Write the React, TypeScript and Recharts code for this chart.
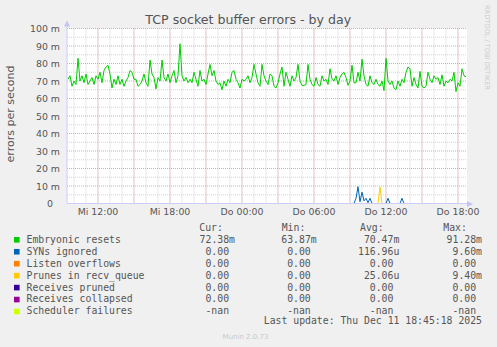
import React from 'react';
import { LineChart, Line, XAxis, YAxis, CartesianGrid } from 'recharts';

// ---- data (values in milli-errors per second) ----
const firstSampleMinute = 570; // Wed 09:30, minutes since Wed 00:00
const sampleStepMinutes = 10;
const domainStart = 565;
const domainEnd = 2565;

const embryonicResets = [
  71, 73, 67, 70, 68, 83, 70, 73, 69, 74,
  68, 70, 72, 68, 73, 71, 75, 69, 76, 78,
  79, 74, 66, 71, 68, 73, 68, 71, 67, 70,
  72, 76, 75, 71, 71, 67, 68, 70, 74, 69,
  67, 82, 74, 72, 65.5, 72, 70, 82, 72, 70,
  74, 69, 73, 76, 69, 73, 91.3, 73, 70, 72,
  69, 71, 69, 75, 71, 67, 76, 70, 71, 68,
  74, 79.5, 73, 76, 70, 68, 69, 65, 70, 67,
  71, 69, 75, 76, 71, 69, 66, 71, 70, 71,
  73, 69, 72, 79.5, 74, 69, 67, 79.5, 73, 70,
  68, 74, 73, 67, 66, 69, 74, 78, 67, 75,
  71, 67, 73, 70, 72, 79.5, 70, 67.5, 67.5, 68,
  79.5, 71, 68, 67, 72, 68, 67, 73, 70, 71,
  68, 77, 71, 70, 73, 68, 72, 74, 75, 72,
  67.5, 70, 79, 69, 69, 75, 70, 82.5, 73, 68,
  67, 73, 69, 68, 71, 68, 67, 70, 64.5, 83,
  70, 68, 70, 66, 65, 70, 67, 71, 69, 75,
  78, 77, 67, 72, 68, 66, 75.5, 67, 66, 67,
  75, 71, 69, 73, 71, 72, 68, 73.5, 67, 70,
  69, 71, 70, 75, 63.9, 69, 67, 77, 73, 72.4,
];

// sparse readings: [sample index, value]
const synsIgnoredReadings: [number, number][] = [
  [144, 3], [145, 9.6], [146, 1], [147, 6.5], [148, 1.5],
  [149, 3], [150, 0.5], [151, 3], [160, 3], [167, 3],
];
const prunesRecvQueueReadings: [number, number][] = [[156, 9.4]];
const listenOverflowsReadings: [number, number][] = [];
const receivesPrunedReadings: [number, number][] = [];
const receivesCollapsedReadings: [number, number][] = [];

const xTickValues = [720, 1080, 1440, 1800, 2160, 2520];
const xTickLabels = ['Mi 12:00', 'Mi 18:00', 'Do 00:00', 'Do 06:00', 'Do 12:00', 'Do 18:00'];
const yTickValues = [0, 10, 20, 30, 40, 50, 60, 70, 80, 90, 100];
const yTickLabels = ['0', '10 m', '20 m', '30 m', '40 m', '50 m', '60 m', '70 m', '80 m', '90 m', '100 m'];

const yMinorGrid = [5, 15, 25, 35, 45, 55, 65, 75, 85, 95];
const yMajorGrid = [10, 20, 30, 40, 50, 60, 70, 80, 90, 100];
const xMinorGrid: number[] = [];
for (let m = 600; m <= 2520; m += 60) xMinorGrid.push(m);
const xMajorGrid = [720, 900, 1080, 1260, 1440, 1620, 1800, 1980, 2160, 2340, 2520];

const seriesKeys = ['embryonic', 'syns', 'listen', 'prunes', 'rpruned', 'rcollapsed', 'sched'];
const seriesNames = [
  'Embryonic resets', 'SYNs ignored', 'Listen overflows', 'Prunes in recv_queue',
  'Receives pruned', 'Receives collapsed', 'Scheduler failures',
];
const seriesColors = ['#00cc00', '#0066b3', '#ff8000', '#ffcc00', '#330099', '#990099', '#ccff00'];
const curValues = ['72.38m', '0.00', '0.00', '0.00', '0.00', '0.00', '-nan'];
const minValues = ['63.87m', '0.00', '0.00', '0.00', '0.00', '0.00', '-nan'];
const avgValues = ['70.47m', '116.96u', '0.00', '25.06u', '0.00', '0.00', '-nan'];
const maxValues = ['91.28m', '9.60m', '0.00', '9.40m', '0.00', '0.00', '-nan'];

const titleText = 'TCP socket buffer errors - by day';
const yAxisLabel = 'errors per second';
const lastUpdate = 'Last update: Thu Dec 11 18:45:18 2025';
const muninVersion = 'Munin 2.0.73';
const rrdWatermark = 'RRDTOOL / TOBI OETIKER';

// ---- build table ----
const fromReadings = (r: [number, number][]) => {
  const m = new Map(r);
  return (i: number) => (m.has(i) ? (m.get(i) as number) : 0);
};
const synsAt = fromReadings(synsIgnoredReadings);
const prunesAt = fromReadings(prunesRecvQueueReadings);
const listenAt = fromReadings(listenOverflowsReadings);
const rprunedAt = fromReadings(receivesPrunedReadings);
const rcollapsedAt = fromReadings(receivesCollapsedReadings);

const rows = embryonicResets.map((v, i) => ({
  t: firstSampleMinute + i * sampleStepMinutes,
  embryonic: v,
  syns: synsAt(i),
  listen: listenAt(i),
  prunes: prunesAt(i),
  rpruned: rprunedAt(i),
  rcollapsed: rcollapsedAt(i),
  sched: null as number | null,
}));

const TXT = '#555555';
const SANS = '"DejaVu Sans", sans-serif';
const MONO = '"DejaVu Sans Mono", monospace';

const XTick = (props: any) => {
  const { x, y, payload } = props;
  const idx = xTickValues.indexOf(payload.value);
  return (
    <text x={x} y={y + 11.5} textAnchor="middle" fontFamily={SANS} fontSize={9.4} fill={TXT}>
      {idx >= 0 ? xTickLabels[idx] : ''}
    </text>
  );
};

const YTick = (props: any) => {
  const { x, y, payload } = props;
  const idx = yTickValues.indexOf(payload.value);
  const label = idx >= 0 ? yTickLabels[idx] : '';
  const shift = payload.value === 0 ? 14 : 7;
  return (
    <text x={x - shift} y={y + 3.5} textAnchor="end" fontFamily={SANS} fontSize={9.4} fill={TXT}>
      {label}
    </text>
  );
};

const CW = 5.95;
const colEnds = [235, 316.7, 399.3, 482];
const headerStarts = [199.3, 281.7, 360, 443.3];
const headers = ['Cur:', 'Min:', 'Avg:', 'Max:'];

const cellX = (s: string, end: number) => (/[mu]$/.test(s) ? end : end - CW);

export default function App() {
  const cols = [curValues, minValues, avgValues, maxValues];
  return (
    <div style={{ position: 'absolute', left: 0, top: 0, width: 497, height: 347, background: '#f0f0f0', overflow: 'hidden' }}>
      <LineChart
        width={497}
        height={347}
        data={rows}
        margin={{ top: 28.5, right: 30, bottom: 113.5, left: 7 }}
      >
        <CartesianGrid
          fill="#ffffff"
          stroke="#d4d4d4"
          strokeDasharray="1 1"
          horizontalValues={yMinorGrid}
          verticalValues={xMinorGrid}
        />
        <CartesianGrid
          stroke="#e8a3a3"
          strokeDasharray="1 1"
          horizontalValues={yMajorGrid}
          verticalValues={xMajorGrid}
        />
        <XAxis
          dataKey="t"
          type="number"
          domain={[domainStart, domainEnd]}
          ticks={xTickValues}
          interval={0}
          tick={<XTick />}
          tickLine={false}
          tickSize={0}
          tickMargin={0}
          height={30}
          axisLine={{ stroke: '#ccccff' }}
          allowDataOverflow
        />
        <YAxis
          type="number"
          domain={[0, 100]}
          ticks={yTickValues}
          interval={0}
          tick={<YTick />}
          tickLine={false}
          tickSize={0}
          tickMargin={0}
          width={60}
          axisLine={{ stroke: '#ccccff' }}
          allowDataOverflow
        />
        {seriesKeys.map((k, i) => (
          <Line
            key={k}
            dataKey={k}
            name={seriesNames[i]}
            type="linear"
            stroke={seriesColors[i]}
            strokeWidth={1}
            dot={false}
            activeDot={false}
            isAnimationActive={false}
            connectNulls={false}
          />
        ))}
      </LineChart>
      <svg
        width={497}
        height={347}
        style={{ position: 'absolute', left: 0, top: 0, pointerEvents: 'none' }}
      >
        <line x1={67} y1={28.5} x2={67} y2={24} stroke="#ccccff" strokeWidth={1} />
        <polygon points="64,26.5 70,26.5 67,20.5" fill="#c4c4f4" />
        <polygon points="467,201 467,207 473,204" fill="#c4c4f4" />
        <text x={248.3} y={24} textAnchor="middle" fontFamily={SANS} fontSize={12.6} fill={TXT}>
          {titleText}
        </text>
        <text
          x={14}
          y={114}
          textAnchor="middle"
          fontFamily={SANS}
          fontSize={11}
          fill={TXT}
          transform="rotate(-90 14 114)"
        >
          {yAxisLabel}
        </text>
        <text
          x={485}
          y={5}
          fontFamily={SANS}
          fontSize={6.6}
          fill="#cccccc"
          transform="rotate(90 485 5)"
        >
          {rrdWatermark}
        </text>
        {headers.map((h, j) => (
          <text key={h} x={headerStarts[j]} y={230.5} fontFamily={MONO} fontSize={9.8} fill={TXT}>
            {h}
          </text>
        ))}
        {seriesNames.map((name, i) => {
          const by = 242.7 + i * 11.95;
          return (
            <g key={name}>
              <rect x={14} y={by - 5.7} width={5.6} height={5.6} fill={seriesColors[i]} />
              <text x={26.5} y={by} fontFamily={MONO} fontSize={9.8} fill={TXT}>
                {name}
              </text>
              {cols.map((col, j) => (
                <text key={j} x={cellX(col[i], colEnds[j])} y={by} textAnchor="end" fontFamily={MONO} fontSize={9.8} fill={TXT}>
                  {col[i]}
                </text>
              ))}
            </g>
          );
        })}
        <text x={482} y={324} textAnchor="end" fontFamily={MONO} fontSize={9.8} fill={TXT}>
          {lastUpdate}
        </text>
        <text x={245.5} y={339} textAnchor="middle" fontFamily={SANS} fontSize={7} fill="#c8c8c8">
          {muninVersion}
        </text>
      </svg>
    </div>
  );
}
